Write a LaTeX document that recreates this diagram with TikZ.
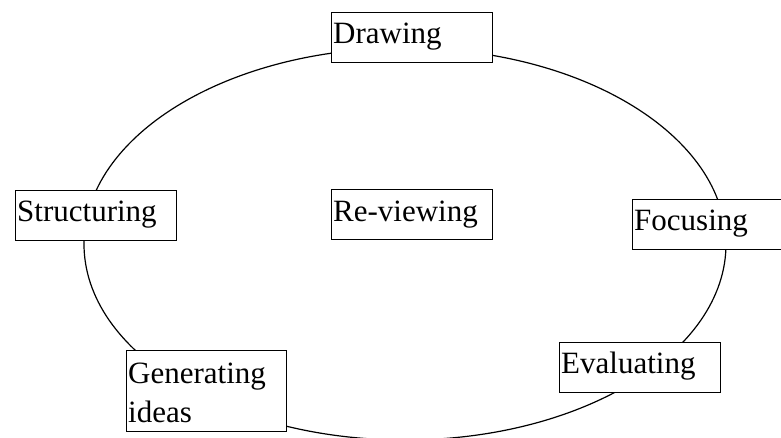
\documentclass[tikz,border=0pt]{standalone}
\usepackage{fontspec}
\setmainfont{Liberation Serif}
\usetikzlibrary{shapes.geometric}
\begin{document}
\begin{tikzpicture}[x=1pt,y=-1pt,
  box/.style={draw=black,line width=1.3pt,fill=white,rectangle,anchor=north west,inner sep=0pt,minimum width=161pt,minimum height=50pt},
  lbl/.style={anchor=base west,inner sep=0pt,font=\fontsize{31}{39}\selectfont,align=left}]
\useasboundingbox (0,0) rectangle (781,437);
\node[draw=black,line width=1.2pt,ellipse,minimum width=642pt,minimum height=392pt,inner sep=0pt] (cyc) at (405,244) {};
\node[box] (bdraw) at (331,12) {};
\node[lbl] (tdraw) at ([xshift=2pt,yshift=-31pt]bdraw.north west) {Drawing};
\node[box] (bstruct) at (15,190) {};
\node[lbl] (tstruct) at ([xshift=2pt,yshift=-31pt]bstruct.north west) {Structuring};
\node[box] (brev) at (331,189) {};
\node[lbl] (trev) at ([xshift=2pt,yshift=-32pt]brev.north west) {Re-viewing};
\node[box] (bfoc) at (632,199) {};
\node[lbl] (tfoc) at ([xshift=2pt,yshift=-31pt]bfoc.north west) {Focusing};
\node[box] (beval) at (559,342) {};
\node[lbl] (teval) at ([xshift=2pt,yshift=-31pt]beval.north west) {Evaluating};
\node[box,minimum width=160pt,minimum height=81pt] (bgen) at (126,350) {};
\node[lbl] (tgen) at ([xshift=2pt,yshift=-72pt]bgen.north west) {Generating\\ideas};
\end{tikzpicture}
\end{document}
